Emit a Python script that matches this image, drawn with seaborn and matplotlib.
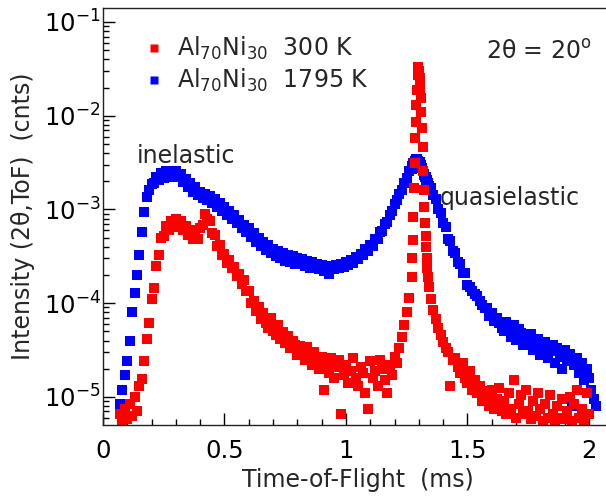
import numpy as np
import matplotlib
matplotlib.use("Agg")
import matplotlib.pyplot as plt
import seaborn as sns
from matplotlib.ticker import LogLocator, NullFormatter, MultipleLocator, FormatStrFormatter
from matplotlib.lines import Line2D

# ---------------- data ----------------
tof = [
    0.07, 0.08, 0.09, 0.10, 0.11, 0.12, 0.13, 0.14, 0.15, 0.16,
    0.17, 0.18, 0.19, 0.20, 0.21, 0.22, 0.23, 0.24, 0.25, 0.26,
    0.27, 0.28, 0.29, 0.30, 0.31, 0.32, 0.33, 0.34, 0.35, 0.36,
    0.37, 0.38, 0.39, 0.40, 0.41, 0.42, 0.43, 0.44, 0.45, 0.46,
    0.47, 0.48, 0.49, 0.50, 0.51, 0.52, 0.53, 0.54, 0.55, 0.56,
    0.57, 0.58, 0.59, 0.60, 0.61, 0.62, 0.63, 0.64, 0.65, 0.66,
    0.67, 0.68, 0.69, 0.70, 0.71, 0.72, 0.73, 0.74, 0.75, 0.76,
    0.77, 0.78, 0.79, 0.80, 0.81, 0.82, 0.83, 0.84, 0.85, 0.86,
    0.87, 0.88, 0.89, 0.90, 0.91, 0.92, 0.93, 0.94, 0.95, 0.96,
    0.97, 0.98, 0.99, 1.00, 1.01, 1.02, 1.03, 1.04, 1.05, 1.06,
    1.07, 1.08, 1.09, 1.10, 1.11, 1.12, 1.13, 1.14, 1.15, 1.16,
    1.17, 1.18, 1.19, 1.20, 1.21, 1.22, 1.23, 1.24, 1.25, 1.26,
    1.2700, 1.2725, 1.2750, 1.2775, 1.2800, 1.2825, 1.2850, 1.2875, 1.2900, 1.2925,
    1.2950, 1.2975, 1.3000, 1.3025, 1.3050, 1.3075, 1.3100, 1.3125, 1.3150, 1.3175,
    1.3200, 1.3225, 1.3250, 1.3275, 1.3300, 1.3325, 1.3350, 1.3375, 1.3400,
    1.35, 1.36, 1.37, 1.38, 1.39, 1.40, 1.41, 1.42, 1.43, 1.44,
    1.45, 1.46, 1.47, 1.48, 1.49, 1.50, 1.51, 1.52, 1.53, 1.54,
    1.55, 1.56, 1.57, 1.58, 1.59, 1.60, 1.61, 1.62, 1.63, 1.64,
    1.65, 1.66, 1.67, 1.68, 1.69, 1.70, 1.71, 1.72, 1.73, 1.74,
    1.75, 1.76, 1.77, 1.78, 1.79, 1.80, 1.81, 1.82, 1.83, 1.84,
    1.85, 1.86, 1.87, 1.88, 1.89, 1.90, 1.91, 1.92, 1.93, 1.94,
    1.95, 1.96, 1.97, 1.98, 1.99, 2.00, 2.01, 2.02, 2.03,
]

intensity_300K = [
    6.5e-6, 5.6e-6, 7.5e-6, 5.8e-6, 8.5e-6, 6.2e-6, 1.0e-5, 7.0e-6, 1.3e-5, 1.55e-5,
    2.4e-5, 4.2e-5, 6.2e-5, 1.1e-4, 1.45e-4, 2.5e-4, 3.3e-4, 5.0e-4, 5.2e-4, 6.7e-4,
    6.1e-4, 7.5e-4, 6.5e-4, 7.9e-4, 6.7e-4, 7.6e-4, 6.1e-4, 6.6e-4, 5.3e-4, 6.0e-4,
    4.9e-4, 5.5e-4, 4.9e-4, 6.4e-4, 6.8e-4, 8.9e-4, 8.0e-4, 7.6e-4, 5.6e-4, 5.3e-4,
    4.1e-4, 4.2e-4, 3.3e-4, 3.35e-4, 2.7e-4, 2.9e-4, 2.35e-4, 2.45e-4, 1.95e-4, 2.05e-4,
    1.6e-4, 1.75e-4, 1.35e-4, 1.35e-4, 1.0e-4, 1.05e-4, 8.2e-5, 9.0e-5, 6.8e-5, 7.8e-5,
    6.2e-5, 5.4e-5, 6.9e-5, 5.0e-5, 4.6e-5, 5.8e-5, 4.2e-5, 4.9e-5, 3.8e-5, 4.5e-5,
    3.3e-5, 4.0e-5, 3.6e-5, 2.8e-5, 3.5e-5, 3.1e-5, 2.5e-5, 3.4e-5, 2.7e-5, 2.2e-5,
    3.0e-5, 2.4e-5, 2.0e-5, 2.7e-5, 1.2e-5, 2.2e-5, 1.8e-5, 2.6e-5, 1.6e-5, 2.1e-5,
    2.5e-5, 6.5e-6, 1.7e-5, 2.2e-5, 1.4e-5, 1.9e-5, 2.6e-5, 1.6e-5, 1.3e-5, 2.1e-5,
    1.8e-5, 1.1e-5, 7.5e-6, 2.4e-5, 1.6e-5, 1.9e-5, 1.3e-5, 2.5e-5, 2.0e-5, 1.5e-5,
    1.1e-5, 2.2e-5, 1.7e-5, 2.7e-5, 2.3e-5, 3.3e-5, 4.4e-5, 5.8e-5, 8.0e-5, 1.15e-4,
    1.9e-4, 3.0e-4, 4.7e-4, 8.3e-4, 1.7e-3, 3.1e-3, 5.8e-3, 8.6e-3, 1.3e-2, 1.9e-2,
    2.7e-2, 3.3e-2, 3.0e-2, 2.5e-2, 2.0e-2, 1.55e-2, 1.1e-2, 7.4e-3, 4.6e-3, 2.6e-3,
    1.6e-3, 1.07e-3, 7.1e-4, 5.2e-4, 4.0e-4, 3.0e-4, 2.4e-4, 1.9e-4, 1.5e-4,
    1.1e-4, 8.5e-5, 6.8e-5, 5.5e-5, 4.6e-5, 3.9e-5, 3.3e-5, 3.0e-5, 1.3e-5, 2.5e-5,
    2.6e-5, 2.1e-5, 1.8e-5, 2.3e-5, 1.6e-5, 1.4e-5, 1.9e-5, 1.2e-5, 1.5e-5, 1.1e-5,
    1.3e-5, 9.0e-6, 1.15e-5, 1.0e-5, 8.0e-6, 1.2e-5, 7.5e-6, 9.5e-6, 1.25e-5, 7.0e-6,
    9.0e-6, 6.5e-6, 1.1e-5, 7.5e-6, 1.5e-5, 6.0e-6, 8.5e-6, 1.05e-5, 6.5e-6, 1.2e-5,
    7.0e-6, 5.8e-6, 9.0e-6, 6.2e-6, 1.1e-5, 7.5e-6, 5.6e-6, 8.5e-6, 6.0e-6, 1.05e-5,
    6.5e-6, 5.5e-6, 8.0e-6, 6.0e-6, 9.5e-6, 5.8e-6, 7.0e-6, 1.0e-5, 5.6e-6, 8.5e-6,
    1.2e-5, 6.0e-6, 7.5e-6, 5.5e-6, 1.1e-5, 6.5e-6, None, None, None,
]

intensity_1795K = [
    8.5e-6, 1.2e-5, 1.7e-5, 2.4e-5, 4.0e-5, 8.0e-5, 1.3e-4, 2.0e-4, 3.3e-4, 5.8e-4,
    9.5e-4, 1.36e-3, 1.6e-3, 1.86e-3, 1.9e-3, 2.2e-3, 2.05e-3, 2.45e-3, 2.15e-3, 2.55e-3,
    2.2e-3, 2.6e-3, 2.25e-3, 2.55e-3, 2.2e-3, 2.4e-3, 1.95e-3, 2.1e-3, 1.72e-3, 1.9e-3,
    1.55e-3, 1.72e-3, 1.42e-3, 1.55e-3, 1.32e-3, 1.48e-3, 1.26e-3, 1.4e-3, 1.16e-3, 1.3e-3,
    1.07e-3, 1.18e-3, 9.7e-4, 1.06e-3, 8.7e-4, 9.7e-4, 8.0e-4, 8.8e-4, 7.1e-4, 7.8e-4,
    6.3e-4, 6.9e-4, 5.7e-4, 6.3e-4, 5.1e-4, 5.6e-4, 4.5e-4, 5.0e-4, 4.1e-4, 4.5e-4,
    3.7e-4, 4.15e-4, 3.45e-4, 3.8e-4, 3.2e-4, 3.6e-4, 3.0e-4, 3.4e-4, 2.85e-4, 3.25e-4,
    2.75e-4, 3.15e-4, 2.65e-4, 3.05e-4, 2.6e-4, 2.95e-4, 2.5e-4, 2.85e-4, 2.4e-4, 2.75e-4,
    2.35e-4, 2.6e-4, 2.3e-4, 2.55e-4, 2.2e-4, 2.5e-4, 2.05e-4, 2.5e-4, 2.3e-4, 2.55e-4,
    2.35e-4, 2.65e-4, 2.45e-4, 2.75e-4, 2.55e-4, 2.9e-4, 2.7e-4, 3.1e-4, 2.95e-4, 3.35e-4,
    3.25e-4, 3.75e-4, 3.6e-4, 4.2e-4, 4.1e-4, 4.8e-4, 4.8e-4, 5.7e-4, 5.9e-4, 7.0e-4,
    7.4e-4, 8.8e-4, 9.6e-4, 1.14e-3, 1.25e-3, 1.48e-3, 1.62e-3, 1.93e-3, 2.15e-3, 2.55e-3,
    2.7e-3, 2.9e-3, 2.9e-3, 3.1e-3, 3.1e-3, 3.3e-3, 3.25e-3, 3.45e-3, 3.35e-3, 3.45e-3,
    3.2e-3, 3.3e-3, 3.1e-3, 3.2e-3, 2.95e-3, 3.0e-3, 2.75e-3, 2.8e-3, 2.55e-3, 2.6e-3,
    2.35e-3, 2.4e-3, 2.2e-3, 2.2e-3, 2.05e-3, 2.05e-3, 1.9e-3, 1.92e-3, 1.8e-3,
    1.7e-3, 1.42e-3, 1.28e-3, 1.02e-3, 9.2e-4, 7.1e-4, 6.5e-4, 4.9e-4, 4.6e-4, 3.6e-4,
    3.45e-4, 2.75e-4, 2.65e-4, 2.1e-4, 2.1e-4, 1.55e-4, 1.5e-4, 1.35e-4, 1.25e-4, 1.2e-4,
    1.05e-4, 9.5e-5, 8.8e-5, 8.9e-5, 7.3e-5, 7.8e-5, 6.4e-5, 7.0e-5, 6.2e-5, 5.5e-5,
    5.0e-5, 6.3e-5, 5.6e-5, 4.4e-5, 5.9e-5, 4.1e-5, 5.3e-5, 4.8e-5, 3.6e-5, 4.5e-5,
    3.9e-5, 4.7e-5, 3.2e-5, 3.7e-5, 4.2e-5, 2.8e-5, 3.5e-5, 3.9e-5, 2.6e-5, 3.1e-5,
    3.6e-5, 2.3e-5, 3.3e-5, 2.7e-5, 2.0e-5, 3.2e-5, 2.4e-5, 2.9e-5, 8.0e-6, 2.2e-5,
    2.6e-5, 1.8e-5, 2.3e-5, 1.5e-5, 2.0e-5, 1.6e-5, 1.2e-5, 9.5e-6, 8.0e-6,
]

series_labels = ["Al$_{70}$Ni$_{30}$  300 K", "Al$_{70}$Ni$_{30}$  1795 K"]
series_colors = ["#ff0000", "#0000ff"]
x_tick_values = [0, 0.5, 1, 1.5, 2]

# ---------------- style ----------------
sns.set_style("ticks")
plt.rcParams["font.family"] = ["DejaVu Sans"]
plt.rcParams["mathtext.fontset"] = "dejavusans"

W, H = 606, 499
fig = plt.figure(figsize=(W / 100, H / 100), dpi=100)
ax = fig.add_axes([103 / W, 1 - 425 / H, (W - 103) / W, 417 / H])

y300 = np.array(intensity_300K, dtype=float)
y1795 = np.array(intensity_1795K, dtype=float)
x = np.array(tof, dtype=float)

msize = 46
sns.scatterplot(x=x, y=y1795, color=series_colors[1], marker="s", s=msize,
                linewidth=0, ax=ax, legend=False)
sns.scatterplot(x=x, y=y300, color=series_colors[0], marker="s", s=msize,
                linewidth=0, ax=ax, legend=False)

ax.set_yscale("log")
ax.set_xlim(0, 2.07)
ax.set_ylim(5.02e-6, 0.141)

ax.set_xticks(x_tick_values)
ax.xaxis.set_major_formatter(FormatStrFormatter("%g"))
ax.xaxis.set_minor_locator(MultipleLocator(0.1))
ax.yaxis.set_major_locator(LogLocator(base=10, numticks=20))
ax.yaxis.set_minor_locator(LogLocator(base=10, subs=np.arange(2, 10), numticks=20))
ax.yaxis.set_minor_formatter(NullFormatter())

ax.tick_params(which="both", direction="in", top=False, right=False,
               color="black", labelcolor="black")
ax.tick_params(which="major", length=8.6, width=1.0)
ax.tick_params(which="minor", length=4.5, width=1.0)
ax.tick_params(axis="x", which="major", pad=10, labelsize=17.5)
ax.tick_params(axis="y", which="major", pad=1.5, labelsize=17.5)

for side in ["left", "bottom", "top"]:
    ax.spines[side].set_visible(True)
    ax.spines[side].set_color("#222222")
    ax.spines[side].set_linewidth(1.0)
ax.spines["right"].set_visible(False)

ax.set_xlabel("Time-of-Flight  (ms)", fontsize=17)
ax.xaxis.set_label_coords(0.506, -0.103)
ax.set_ylabel("Intensity (2θ,ToF)  (cnts)", fontsize=17)
ax.yaxis.set_label_coords(-0.135, 0.5)

handles = [Line2D([], [], ls="none", marker="s", ms=6.0, mfc=c, mec="none")
           for c in series_colors]
ax.legend(handles, series_labels, loc="upper left", bbox_to_anchor=(0.0775, 0.935),
          frameon=False, fontsize=17, handlelength=1.0, handletextpad=0.5,
          labelspacing=0.2, borderpad=0, borderaxespad=0)

ax.text(0.761, 0.894, "2θ = 20$^{\\mathrm{o}}$", transform=ax.transAxes,
        fontsize=17, va="center", ha="left")
ax.text(0.0676, 0.628, "inelastic", transform=ax.transAxes,
        fontsize=17, va="baseline", ha="left")
ax.text(0.670, 0.5276, "quasielastic", transform=ax.transAxes,
        fontsize=17, va="baseline", ha="left")

fig.savefig("out.png", dpi=100)
